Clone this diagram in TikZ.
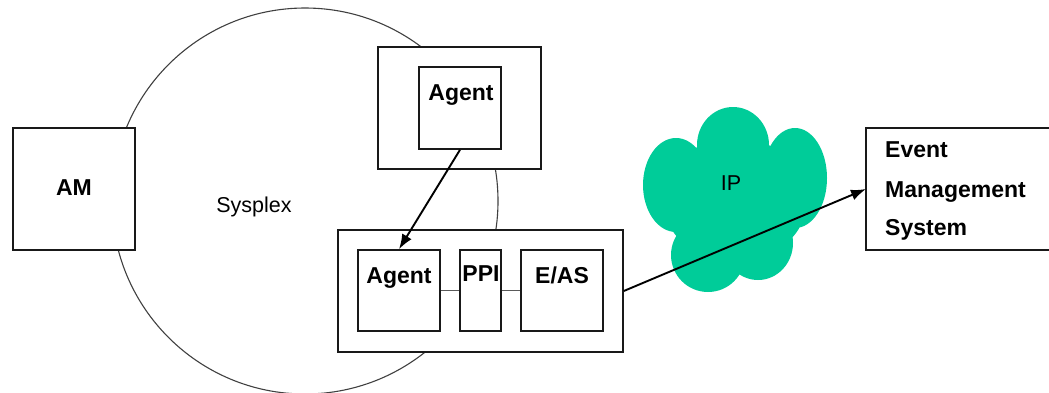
\documentclass[tikz,border=0pt]{standalone}
\usepackage{fontspec}
\setmainfont{Liberation Sans}
\usetikzlibrary{arrows.meta}
\definecolor{cloudgreen}{RGB}{0,204,153}
\definecolor{boxline}{RGB}{25,25,25}
\definecolor{linkgray}{RGB}{90,90,90}
\tikzset{
  box/.style={draw=boxline, line width=1.6pt, fill=white, rectangle, inner sep=0pt},
  boldlbl/.style={inner sep=0pt, anchor=base, font=\fontsize{23}{27}\selectfont\bfseries},
  plainlbl/.style={inner sep=0pt, anchor=base, font=\fontsize{21.5}{26}\selectfont},
  flow/.style={draw=black, line width=1.9pt, -{Latex[length=15pt,width=11pt]}},
  link/.style={draw=linkgray, line width=1.8pt}
}
\begin{document}
\begin{tikzpicture}[x=1pt,y=-1pt]
\useasboundingbox (0,0) rectangle (1049,392);

% Sysplex boundary
\node[circle, draw=black!75, line width=1.1pt, minimum size=386pt, inner sep=0pt] (sysplex) at (305,201) {};
\node[plainlbl] (sysplexTxt) at (254,212) {Sysplex};

% IP cloud built from overlapping lobes
\fill[cloudgreen]
  (733,145) ellipse [x radius=36pt, y radius=38pt]
  (676,185) ellipse [x radius=33pt, y radius=47pt]
  (795,178) ellipse [x radius=32pt, y radius=50pt]
  (708,255) ellipse [x radius=37pt, y radius=37pt]
  (758,243) ellipse [x radius=35pt, y radius=37pt]
  (735,200) ellipse [x radius=72pt, y radius=62pt];
\node[plainlbl] (ipTxt) at (731,190) {IP};

% Automation manager
\node[box, minimum width=122pt, minimum height=122pt] (am) at (74,189) {};
\node[boldlbl] (amTxt) at (74,195) {AM};

% Remote system with its agent
\node[box, minimum width=163pt, minimum height=122pt] (topOuter) at (459.5,108) {};
\node[box, minimum width=82pt, minimum height=82pt] (topAgent) at (460,108) {};
\node[boldlbl] (topAgentTxt) at (461,100) {Agent};

% Local system: agent, PPI and E/AS
\node[box, minimum width=285pt, minimum height=122pt] (botOuter) at (480.5,291) {};
\node[box, minimum width=82pt, minimum height=81pt] (botAgent) at (399,290.5) {};
\node[box, minimum width=41pt, minimum height=81pt] (ppi) at (480.5,290.5) {};
\node[box, minimum width=82pt, minimum height=81pt] (eas) at (562,290.5) {};
\node[boldlbl] (botAgentTxt) at (399,283) {Agent};
\node[boldlbl] (ppiTxt) at (481,281) {PPI};
\node[boldlbl] (easTxt) at (562,283) {E/AS};
\draw[link] (botAgent.east) -- (ppi.west);
\draw[link] (ppi.east) -- (eas.west);

% Event management system (open to the right)
\node[box, minimum width=200pt, minimum height=122pt] (ems) at (966,189) {};
\coordinate (emsIn) at (866,189);
\node[boldlbl, anchor=base west] (emsTxt1) at (885,157) {Event};
\node[boldlbl, anchor=base west] (emsTxt2) at (885,197) {Management};
\node[boldlbl, anchor=base west] (emsTxt3) at (885,235) {System};

% Message flows
\draw[flow] (topAgent.south) -- (botAgent.north);
\draw[flow] (botOuter.east) -- (emsIn);
\end{tikzpicture}
\end{document}
